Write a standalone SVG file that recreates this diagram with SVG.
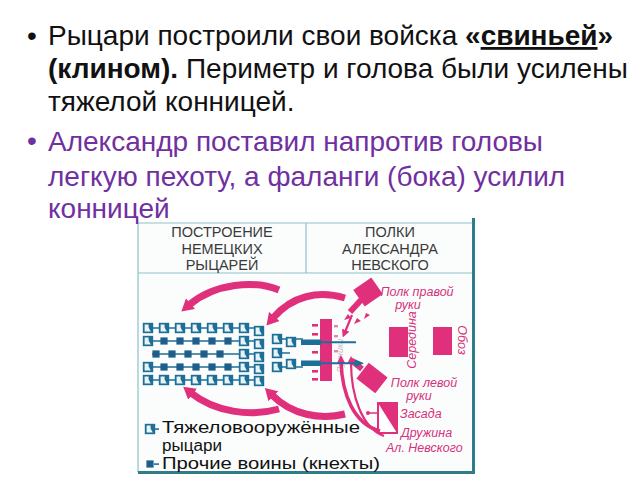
<svg xmlns="http://www.w3.org/2000/svg" xmlns:xlink="http://www.w3.org/1999/xlink" width="640" height="480" viewBox="0 0 640 480">
<style>
.t{font-family:"Liberation Sans",Arial,sans-serif;font-size:28px;fill:#111}
.p{fill:#7030A0}
.b{font-weight:bold}
.hd{font-family:"Liberation Sans",Arial,sans-serif;font-size:14.5px;fill:#3a3a3a;text-anchor:middle}
.lg{font-family:"Liberation Sans",Arial,sans-serif;font-size:16px;fill:#111}
.pk{font-family:"Liberation Sans",Arial,sans-serif;font-size:12.5px;fill:#d6317c;font-style:italic}
.pf{fill:#e0307c}
.arr{fill:none;stroke:#e0307c;stroke-width:7;marker-end:url(#ph)}
.thin{fill:none;stroke:#e0307c;stroke-width:2.2;marker-end:url(#pt)}
.ln{stroke:#8fc2c8;stroke-width:1.2;fill:none}
.bd{stroke:#2f7d88;stroke-width:3;fill:none}
.row{stroke:#1e6f97;stroke-width:1.4}
</style>
<defs>
<marker id="ph" viewBox="0 0 12 14" refX="2" refY="7" markerWidth="12" markerHeight="14" markerUnits="userSpaceOnUse" orient="auto"><path d="M0 0L12 7L0 14z" fill="#e0307c"/></marker>
<marker id="pt" viewBox="0 0 8 8" refX="2" refY="4" markerWidth="8" markerHeight="8" markerUnits="userSpaceOnUse" orient="auto"><path d="M0 0L8 4L0 8z" fill="#e0307c"/></marker>
<marker id="bh" viewBox="0 0 9 8" refX="1" refY="4" markerWidth="9" markerHeight="8" markerUnits="userSpaceOnUse" orient="auto"><path d="M0 0L9 4L0 8z" fill="#1e6f97"/></marker>
<g id="kn"><rect x="-5.2" y="-5.2" width="10.4" height="10.4" fill="#1e6f97"/><path d="M-3.4 -3.6h4v3l2.2 4h-6.2z" fill="#e6f3f7"/></g>
<g id="sq"><rect x="-3.6" y="-3.6" width="7.2" height="7.2" fill="#1d5f8a"/></g>
</defs>

<rect width="640" height="480" fill="#fff"/>

<!-- diagram frame -->
<g id="frame">
<rect x="138" y="222" width="335" height="250" fill="#fbfdfd"/>
<path class="ln" d="M138 223H473M138 273H473M306 223V273M138 223V472"/>
<path class="bd" d="M473.5 218V472.5H138"/>
</g>

<g id="header-left">
<text class="hd" x="222" y="237">ПОСТРОЕНИЕ</text>
<text class="hd" x="222" y="254">НЕМЕЦКИХ</text>
<text class="hd" x="222" y="270">РЫЦАРЕЙ</text>
</g>
<g id="header-right">
<text class="hd" x="390" y="237">ПОЛКИ</text>
<text class="hd" x="390" y="254">АЛЕКСАНДРА</text>
<text class="hd" x="390" y="270">НЕВСКОГО</text>
</g>

<!-- knights formation -->
<g id="knights">
<path class="row" d="M148 328H258M148 341H258M152 354H258M148 367H258M148 380H258M277 339H303M277 353H290M277 367H303"/>
<use href="#kn" x="148" y="328"/><use href="#kn" x="164" y="328"/><use href="#kn" x="180" y="328"/><use href="#kn" x="196" y="328"/><use href="#kn" x="212" y="328"/><use href="#kn" x="228" y="328"/><use href="#kn" x="244" y="328"/><use href="#kn" x="259" y="331"/>
<use href="#kn" x="148" y="341"/><use href="#sq" x="164" y="341"/><use href="#sq" x="180" y="341"/><use href="#sq" x="196" y="341"/><use href="#sq" x="212" y="341"/><use href="#sq" x="228" y="341"/><use href="#kn" x="244" y="341"/><use href="#kn" x="259" y="344"/>
<use href="#sq" x="156" y="354"/><use href="#sq" x="172" y="354"/><use href="#sq" x="188" y="354"/><use href="#sq" x="204" y="354"/><use href="#sq" x="220" y="354"/><use href="#kn" x="244" y="354"/><use href="#kn" x="259" y="357"/>
<use href="#kn" x="148" y="367"/><use href="#sq" x="164" y="367"/><use href="#sq" x="180" y="367"/><use href="#sq" x="196" y="367"/><use href="#sq" x="212" y="367"/><use href="#sq" x="228" y="367"/><use href="#kn" x="244" y="367"/><use href="#kn" x="259" y="369"/>
<use href="#kn" x="148" y="380"/><use href="#kn" x="164" y="380"/><use href="#kn" x="180" y="380"/><use href="#kn" x="196" y="380"/><use href="#kn" x="212" y="380"/><use href="#kn" x="228" y="380"/><use href="#kn" x="244" y="380"/><use href="#kn" x="259" y="381"/>
<use href="#kn" x="277" y="339"/><use href="#kn" x="291" y="342"/><use href="#kn" x="277" y="353"/><use href="#kn" x="277" y="367"/><use href="#kn" x="291" y="364"/>
</g>

<!-- infantry -->
<g id="infantry">
<rect class="pf" x="320" y="319" width="12" height="62"/>
<g class="pf"><rect x="312" y="324" width="6" height="2.6"/><rect x="312" y="333" width="6" height="2.6"/><rect x="312" y="351" width="6" height="2.6"/><rect x="312" y="370" width="6" height="2.6"/><rect x="312" y="378" width="6" height="2.6"/>
<rect x="334" y="325" width="4" height="2.4" opacity="0.6"/><rect x="334" y="335" width="4" height="2.4" opacity="0.6"/><rect x="334" y="350" width="4" height="2.4" opacity="0.6"/></g>
<text class="pk" transform="translate(343 356) rotate(-90)" text-anchor="middle" style="font-size:9px;fill:#c9b3c6">Лучники</text>
</g>

<!-- flank regiments and positions -->
<g id="polk-pravoy">
<rect class="pf" x="-11" y="-10" width="22" height="20" transform="translate(368 292) rotate(-35)"/>
<path d="M361 300L350 312" stroke="#e0307c" stroke-width="6"/>
<path class="pf" d="M348 314l-4 6 7-2zM357 318l-3 6 7-3zM366 313l-2 6 6-4z"/>
<text class="pk" x="417" y="296" text-anchor="middle">Полк правой</text>
<text class="pk" x="408" y="309" text-anchor="middle">руки</text>
</g>
<g id="seredina">
<rect class="pf" x="389" y="327" width="19" height="30"/>
<text class="pk" transform="translate(416 340) rotate(-90)" text-anchor="middle">Середина</text>
</g>
<g id="oboz">
<rect class="pf" x="433" y="327" width="19" height="28"/>
<text class="pk" transform="translate(458 340) rotate(90)" text-anchor="middle">Обоз</text>
</g>
<g id="polk-levoy">
<rect class="pf" x="-12" y="-10" width="24" height="20" transform="translate(372 378) rotate(38)"/>
<path d="M362 369L351 360" stroke="#e0307c" stroke-width="6"/>
<text class="pk" x="424" y="387" text-anchor="middle">Полк левой</text>
<text class="pk" x="419" y="400" text-anchor="middle">руки</text>
</g>
<g id="zasada">
<rect x="378" y="403" width="19" height="30" fill="#fff" stroke="#e0307c" stroke-width="2"/>
<path class="pf" d="M378 403H397V433z"/>
<path d="M377 413H369" stroke="#e0307c" stroke-width="1.5"/><circle class="pf" cx="368" cy="413" r="2"/>
<text class="pk" x="400" y="418">Засада</text>
</g>
<g id="druzhina">
<text class="pk" x="401" y="437">Дружина</text>
<text class="pk" x="386" y="452">Ал. Невского</text>
</g>

<!-- connectors -->
<g id="connectors">
<path class="arr" d="M279 290C255 280 215 283 189 305"/>
<path class="arr" d="M345 298C318 290 292 296 273 318"/>
<path class="arr" d="M279 409C250 417 215 412 191 393"/>
<path class="arr" d="M345 414C320 420 292 415 272 395"/>
<path class="thin" d="M352 315L345 332"/>
<path d="M380 431C354 424 342 395 341 361" fill="none" stroke="#e0307c" stroke-width="3.5" marker-end="url(#pt)"/>
<path class="thin" d="M384 436C362 428 351 396 351 362"/>
<rect x="301" y="339.5" width="20" height="5.5" fill="#1e6f97"/>
<rect x="301" y="360.5" width="20" height="5.5" fill="#1e6f97"/>
<path d="M320 342.2H356M320 363.2H356" stroke="#1e6f97" stroke-width="2" marker-end="url(#bh)"/>
</g>

<!-- legend -->
<g id="legend">
<use href="#kn" x="150" y="429"/><rect x="155" y="428.3" width="4" height="1.6" fill="#1e6f97"/>
<text class="lg" x="162" y="433" textLength="198" lengthAdjust="spacingAndGlyphs">Тяжеловооружённые</text>
<text class="lg" x="162" y="451" textLength="60" lengthAdjust="spacingAndGlyphs">рыцари</text>
<use href="#sq" x="150" y="464"/><rect x="154" y="463.3" width="5" height="1.6" fill="#1e6f97"/>
<text class="lg" x="162" y="469" textLength="218" lengthAdjust="spacingAndGlyphs">Прочие воины (кнехты)</text>
</g>

<!-- bullet text -->
<g id="text1">
<text class="t" x="27" y="45">•</text>
<text class="t" x="48" y="45">Рыцари построили свои войска <tspan class="b">«<tspan text-decoration="underline">свиньей</tspan>»</tspan></text>
<text class="t" x="48" y="78"><tspan class="b">(клином).</tspan> Периметр и голова были усилены</text>
<text class="t" x="48" y="111">тяжелой конницей.</text>
</g>
<g id="text2">
<text class="t p" x="27" y="150">•</text>
<text class="t p" x="48" y="151">Александр поставил напротив головы</text>
<text class="t p" x="48" y="186">легкую пехоту, а фаланги (бока) усилил</text>
<text class="t p" x="48" y="218">конницей</text>
</g>
</svg>
